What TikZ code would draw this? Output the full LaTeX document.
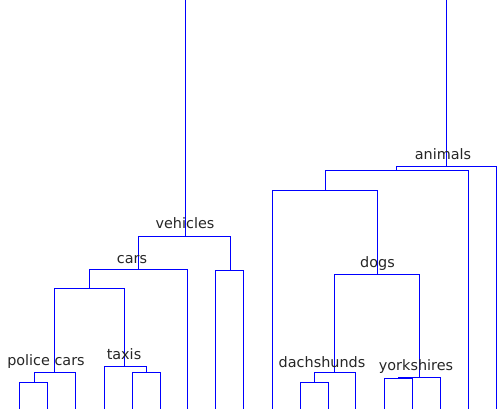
\documentclass[tikz,border=0pt]{standalone}
\usepackage{fontspec}
\setmainfont{DejaVu Sans}
\tikzset{
  link/.style={draw=blue, line width=0.75pt},
  tag/.style={font=\fontsize{10.8}{13}\selectfont, text=black!85, inner sep=0pt, anchor=base}
}
\begin{document}
\begin{tikzpicture}[x=0.75pt, y=-0.75pt]
\useasboundingbox (0,0) rectangle (497,408);
\begin{scope}[shift={(0.5,0.5)}]
% merge points
\coordinate (topV) at (185,-1);
\coordinate (topA) at (446,-1);
\coordinate (vehicles) at (185,236);
\coordinate (cars) at (138,269);
\coordinate (vehR) at (230,270);
\coordinate (carsL) at (89,288);
\coordinate (police) at (54,372);
\coordinate (policeL) at (34,382);
\coordinate (taxis) at (124,366);
\coordinate (taxisR) at (146,372);
\coordinate (animals) at (446,166);
\coordinate (animL) at (396,170);
\coordinate (animLL) at (325,190);
\coordinate (dogs) at (377,274);
\coordinate (dachshunds) at (334,372);
\coordinate (dachL) at (314,382);
\coordinate (yorkshires) at (419,377);
\coordinate (yorkL) at (398,378);
% leaves
\foreach \leafname/\leafx in {pc1/19, pc2/47, pc3/75, tx1/104, tx2/132, tx3/160, car4/187,
    veh1/215, veh2/243, an1/272, dh1/300, dh2/328, dh3/355, yk1/384, yk2/412,
    yk3/440, an2/468, an3/496}
  \coordinate (\leafname) at (\leafx,409);
% vehicles
\draw[link] (topV) -- (vehicles)
  (vehicles) -| (cars) (vehicles) -| (vehR)
  (vehR) -| (veh1) (vehR) -| (veh2)
  (cars) -| (carsL) (cars) -| (car4);
\draw[link] (carsL) -| (police) (carsL) -| (taxis)
  (police) -| (policeL) (police) -| (pc3)
  (policeL) -| (pc1) (policeL) -| (pc2)
  (taxis) -| (tx1) (taxis) -| (taxisR)
  (taxisR) -| (tx2) (taxisR) -| (tx3);
% animals
\draw[link] (topA) -- (animals)
  (animals) -| (animL) (animals) -| (an3)
  (animL) -| (animLL) (animL) -| (an2)
  (animLL) -| (an1) (animLL) -| (dogs);
\draw[link] (dogs) -| (dachshunds) (dogs) -| (yorkshires)
  (dachshunds) -| (dachL) (dachshunds) -| (dh3)
  (dachL) -| (dh1) (dachL) -| (dh2)
  (yorkshires) -| (yorkL) (yorkshires) -| (yk3)
  (yorkL) -| (yk1) (yorkL) -| (yk2);
\end{scope}
% labels
\node[tag] (vehiclesT) at (185,228) {vehicles};
\node[tag] (carsT) at (132,263.5) {cars};
\node[tag] (policeT) at (46,365) {police cars};
\node[tag] (taxisT) at (124,359) {taxis};
\node[tag] (animalsT) at (443,159) {animals};
\node[tag] (dogsT) at (377.5,267) {dogs};
\node[tag] (dachshundsT) at (322,367) {dachshunds};
\node[tag] (yorkshiresT) at (416,370) {yorkshires};
\end{tikzpicture}
\end{document}
